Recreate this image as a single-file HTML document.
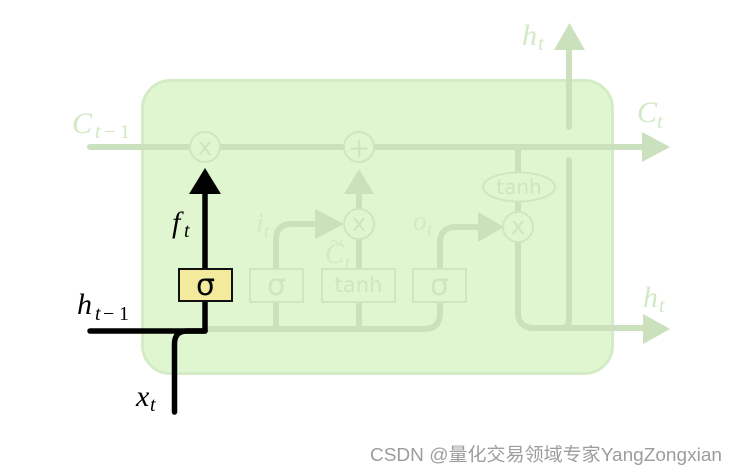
<!DOCTYPE html>
<html><head><meta charset="utf-8"><style>
html,body{margin:0;padding:0;background:#fff;}
svg{display:block;}
.m{font-family:"Liberation Serif",serif;font-style:italic;}
.n{font-family:"Liberation Serif",serif;font-style:normal;}
.s{font-family:"DejaVu Sans",sans-serif;}
</style></head><body>
<svg width="737" height="475" viewBox="0 0 737 475" xmlns="http://www.w3.org/2000/svg">
<rect x="142.5" y="80.5" width="470" height="293" rx="28" fill="#e0f6d1" stroke="#d4ecc5" stroke-width="3"/>
<g stroke="#cbe0bc" stroke-width="6" fill="none" stroke-linecap="round" stroke-linejoin="round">
<path d="M90 147 H645"/>
<path d="M569 127 V48"/>
<path d="M569 160 V320 Q569 328 561 328"/>
<path d="M518 242 V312 Q518 328 534 328 H645"/>
<path d="M518 147 V172 M518 201 V212"/>
<path d="M205 329 H424 Q440 329 440 313 V302"/>
<path d="M440 269 V243 Q440 227 456 227 H480"/>
<path d="M276 329 V302 M276 269 V240 Q276 224 292 224 H318"/>
<path d="M359 329 V302 M359 269 V239 M359 209 V195"/>
</g>
<g fill="#cbe0bc">
<polygon points="642,132 670,147 642,162"/>
<polygon points="554,50 569.5,23 585,50"/>
<polygon points="643,314 670,329 643,344"/>
<polygon points="478,212 504,227 478,242"/>
<polygon points="315,209 344,224 315,239"/>
<polygon points="344,194 359,169 374,194"/>
</g>
<g fill="#e0f6d1" stroke="#d0e6c1" stroke-width="2">
<circle cx="205" cy="147" r="15"/>
<circle cx="359" cy="147" r="15"/>
<circle cx="359" cy="224" r="15"/>
<circle cx="518" cy="227" r="15"/>
<rect x="250" y="269" width="53" height="33"/>
<rect x="322" y="269" width="73" height="33"/>
<rect x="413" y="269" width="53" height="33"/>
<ellipse cx="519" cy="187" rx="36" ry="14.5"/>
</g>
<g class="s" fill="#cfe4c0" text-anchor="middle">
<text x="205" y="155" font-size="24">x</text>
<text x="359" y="157" font-size="27">+</text>
<text x="359" y="231" font-size="24">x</text>
<text x="518" y="234" font-size="24">x</text>
<text x="276.5" y="295" font-size="30">σ</text>
<text x="439.5" y="295" font-size="30">σ</text>
<text x="358.5" y="292" font-size="21">tanh</text>
<text x="519" y="194" font-size="20">tanh</text>
</g>
<!-- faint labels -->
<g fill="#d3e8c4">
<text class="m" x="72" y="133" font-size="30">C</text>
<text class="m" x="95" y="138" font-size="20">t</text>
<text class="n" x="104" y="138" font-size="20">−</text>
<text class="n" x="120" y="138" font-size="20">1</text>
<text class="m" x="522" y="45" font-size="30">h</text>
<text class="m" x="538" y="50" font-size="20">t</text>
<text class="m" x="637" y="122" font-size="30">C</text>
<text class="m" x="657" y="128" font-size="20">t</text>
<text class="m" x="643" y="307" font-size="30">h</text>
<text class="m" x="659" y="312" font-size="20">t</text>
<text class="m" x="256" y="232" font-size="27">i</text>
<text class="m" x="264" y="237" font-size="18">t</text>
<text class="m" x="325" y="263" font-size="28">C</text>
<text class="n" x="330" y="250" font-size="24">~</text>
<text class="m" x="345" y="268" font-size="18">t</text>
<text class="m" x="413" y="230" font-size="27">o</text>
<text class="m" x="427" y="235" font-size="18">t</text>
</g>
<!-- black highlighted path -->
<g stroke="#000" stroke-width="5.5" fill="none" stroke-linecap="round" stroke-linejoin="round">
<path d="M90 331 H205 V301"/>
<path d="M205 269 V194"/>
<path d="M174.5 412 V344 Q174.5 331 187 331 H205"/>
</g>
<polygon points="189,194 205,168 221,194" fill="#000"/>
<rect x="179" y="269" width="53" height="32" fill="#f3ea9b" stroke="#111" stroke-width="2"/>
<text class="s" x="205.5" y="295" font-size="30" text-anchor="middle" fill="#000">σ</text>
<g fill="#000">
<text class="m" x="172" y="232" font-size="30">f</text>
<text class="m" x="184" y="237" font-size="20">t</text>
<text class="m" x="77" y="314" font-size="30">h</text>
<text class="m" x="95" y="320" font-size="20">t</text>
<text class="n" x="103" y="320" font-size="20">−</text>
<text class="n" x="119" y="320" font-size="20">1</text>
<text class="m" x="136" y="406" font-size="30">x</text>
<text class="m" x="150" y="411" font-size="20">t</text>
</g>
<text x="370" y="461" font-family="'Liberation Sans','Noto Sans CJK SC',sans-serif" font-size="18.5" fill="#9d9d9d" textLength="352" lengthAdjust="spacingAndGlyphs">CSDN @量化交易领域专家YangZongxian</text>
</svg>
</body></html>
